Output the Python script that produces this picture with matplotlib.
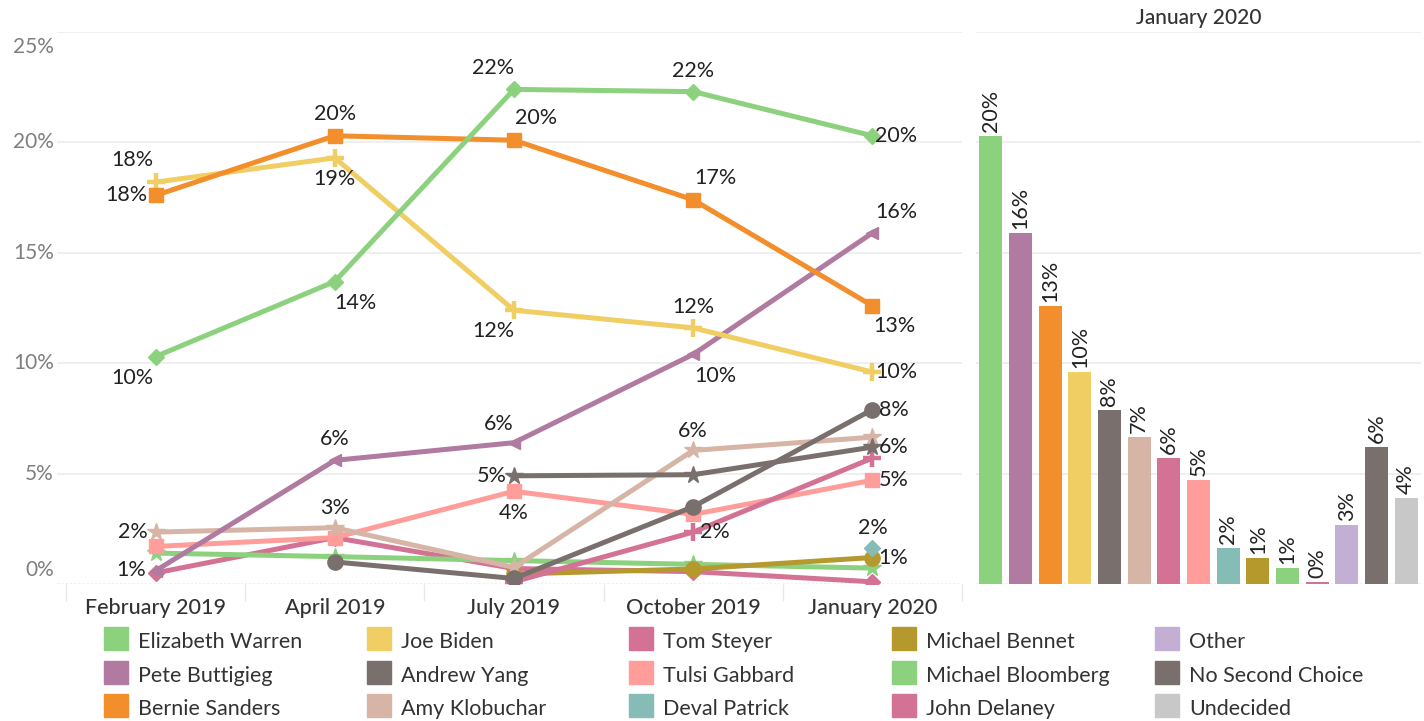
import numpy as np
import matplotlib.pyplot as plt
from matplotlib.patches import Rectangle
from matplotlib.transforms import blended_transform_factory

plt.rcParams['font.family'] = ['Lato', 'DejaVu Sans']

# data
months = ["February 2019", "April 2019", "July 2019", "October 2019", "January 2020"]
candidates = ["Elizabeth Warren", "Pete Buttigieg", "Bernie Sanders", "Joe Biden",
              "Andrew Yang", "Amy Klobuchar", "Tom Steyer", "Tulsi Gabbard",
              "Deval Patrick", "Michael Bennet", "Michael Bloomberg", "John Delaney",
              "Other", "No Second Choice", "Undecided"]
jan_2020 = [20.3, 15.9, 12.6, 9.6, 7.9, 6.65, 5.7, 4.7, 1.65, 1.2, 0.72, 0.1, 2.66, 6.2, 3.9]

nan = np.nan
warren = [10.3, 13.7, 22.4, 22.3, 20.3]
buttigieg = [0.6, 5.6, 6.4, 10.4, 15.9]
sanders = [17.6, 20.3, 20.1, 17.4, 12.6]
biden = [18.2, 19.3, 12.4, 11.6, 9.6]
yang = [nan, 1.0, 0.25, 3.5, 7.9]
klobuchar = [2.35, 2.55, 0.75, 6.05, 6.65]
steyer = [nan, nan, 0.1, 2.35, 5.7]
gabbard = [1.7, 2.1, 4.2, 3.15, 4.7]
patrick = [nan, nan, nan, nan, 1.65]
bennet = [nan, nan, 0.45, 0.68, 1.2]
bloomberg = [1.4, 1.24, 1.06, 0.89, 0.72]
delaney = [0.5, 2.1, 0.7, 0.56, 0.1]
no_second = [nan, nan, 4.9, 4.95, 6.2]

colors = ["#8CD17D", "#B07AA1", "#F28E2B", "#F1CE63", "#79706E", "#D7B5A6", "#D37295",
          "#FF9D9A", "#86BCB6", "#B6992D", "#8CD17D", "#D37295", "#C4AFD4", "#79706E", "#C8C8C8"]
col = dict(zip(candidates, colors))

lines = [
    ("John Delaney", delaney, "D", 8),
    ("Michael Bloomberg", bloomberg, "*", 13),
    ("Michael Bennet", bennet, "o", 11),
    ("Deval Patrick", patrick, "D", 8),
    ("Tulsi Gabbard", gabbard, "s", 10),
    ("Tom Steyer", steyer, "+", 13),
    ("Amy Klobuchar", klobuchar, "*", 13),
    ("No Second Choice", no_second, "*", 13),
    ("Andrew Yang", yang, "o", 11),
    ("Pete Buttigieg", buttigieg, "<", 9),
    ("Joe Biden", biden, "+", 13),
    ("Bernie Sanders", sanders, "s", 10.5),
    ("Elizabeth Warren", warren, "D", 8),
]
series = {name: vals for name, vals, _, _ in lines}

# label offsets (pixels) for the points that carry a label
labels = [
    ("Elizabeth Warren", 0, -23, -21), ("Elizabeth Warren", 1, 21, -21),
    ("Elizabeth Warren", 2, -21, 21), ("Elizabeth Warren", 3, 0, 21),
    ("Elizabeth Warren", 4, 24, 0),
    ("Bernie Sanders", 0, -29, 0), ("Bernie Sanders", 1, 0, 22),
    ("Bernie Sanders", 2, 22, 22), ("Bernie Sanders", 3, 22, 22),
    ("Bernie Sanders", 4, 22, -20),
    ("Joe Biden", 0, -23, 22), ("Joe Biden", 1, 0, -21), ("Joe Biden", 2, -21, -21),
    ("Joe Biden", 3, 0, 21), ("Joe Biden", 4, 24, 0),
    ("Pete Buttigieg", 0, -24, 1), ("Pete Buttigieg", 1, 0, 21),
    ("Pete Buttigieg", 2, -15, 19), ("Pete Buttigieg", 3, 22, -22),
    ("Pete Buttigieg", 4, 24, 21),
    ("Amy Klobuchar", 0, -23, 0), ("Amy Klobuchar", 1, 0, 20), ("Amy Klobuchar", 3, 0, 19),
    ("Tulsi Gabbard", 2, 0, -22), ("Tulsi Gabbard", 4, 21, 0),
    ("No Second Choice", 2, -22, 0), ("No Second Choice", 4, 21, 0),
    ("Andrew Yang", 4, 21, 0),
    ("Tom Steyer", 3, 22, 0),
    ("Deval Patrick", 4, 0, 20),
    ("Michael Bennet", 4, 21, 0),
]

W, H = 1424, 721
fig = plt.figure(figsize=(W / 100, H / 100), dpi=100)

def box(l, r, t, b):
    return [l / W, 1 - b / H, (r - l) / W, (b - t) / H]

ax = fig.add_axes(box(57, 962, 32, 584))
ax2 = fig.add_axes(box(976, 1421, 32, 584))

# line chart
x = np.arange(len(months))
for name, vals, mk, ms in lines:
    c = col[name]
    ax.plot(x, vals, color=c, lw=3.6, marker=mk, ms=ms, mew=3.2 if mk == "+" else 1,
            mec=c, mfc=c, solid_joinstyle="round", zorder=3)

for name, i, dx, dy in labels:
    v = series[name][i]
    ax.annotate(f"{round(v)}%", (x[i], v), xytext=(dx, dy), textcoords="offset pixels",
                ha="center", va="center", fontsize=15.5, color="#222222", zorder=5)

for a in (ax, ax2):
    a.set_ylim(0, 25)
    a.set_yticks([5, 10, 15, 20, 25])
    a.grid(axis="y", color="#ececec", lw=1.2)
    a.set_axisbelow(True)
    for s in a.spines.values():
        s.set_visible(False)
    a.axhline(0, color="#b5b5b5", lw=1, ls=(0, (1.5, 1.5)), zorder=1)
    a.tick_params(axis="y", length=0, labelleft=False)

ax.set_xlim(-0.55, 4.5)
ax.set_xticks(x)
ax.set_xticklabels(months, fontsize=15.5, color="#333333", fontweight="medium")
ax.set_xticks(np.arange(-0.5, 5, 1), minor=True)
ax.tick_params(axis="x", which="major", length=0, pad=10)
ax.tick_params(axis="x", which="minor", length=12, color="#e8e8e8", width=1)

# y tick labels, ends pushed inward like the original
tr = blended_transform_factory(ax.transAxes, ax.transData)
for v, dy in [(0, 14), (5, 0), (10, 0), (15, 0), (20, 0), (25, -15)]:
    ax.annotate(f"{v}%", (0, v), xycoords=tr, xytext=(-3, dy), textcoords="offset pixels",
                ha="right", va="center", fontsize=15, color="#7f7f7f")

# bar chart
xb = np.arange(len(candidates))
ax2.bar(xb, jan_2020, width=0.78, color=colors, zorder=2)
for xi, v in zip(xb, jan_2020):
    ax2.annotate(f"{round(v)}%", (xi, v), xytext=(0, 4), textcoords="offset pixels",
                 rotation=90, ha="center", va="bottom", fontsize=15.5, color="#222222")
ax2.set_xlim(-0.5, len(candidates) - 0.5)
ax2.set_xticks([])
ax2.set_title("January 2020", fontsize=15, color="#333333", fontweight="medium", pad=6)

# legend
col_x = [104, 367, 629, 892, 1155]
row_y = [627, 661, 694]
for k, name in enumerate(candidates):
    cx, ry = col_x[k // 3], row_y[k % 3]
    fig.add_artist(Rectangle((cx / W, 1 - (ry + 23) / H), 24 / W, 23 / H,
                             transform=fig.transFigure, color=col[name]))
    fig.text((cx + 34) / W, 1 - (ry + 15) / H, name, ha="left", va="center",
             fontsize=15.5, color="#333333")

plt.savefig("out.png", dpi=100)
